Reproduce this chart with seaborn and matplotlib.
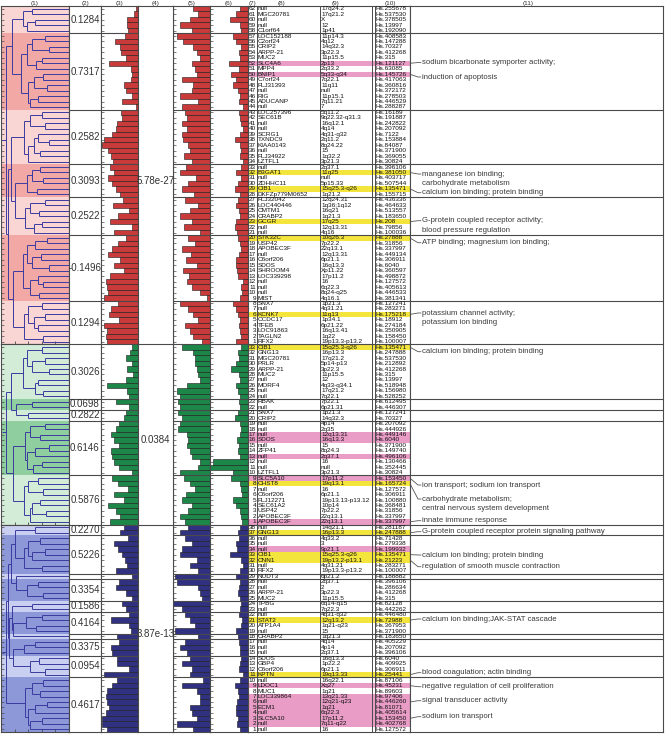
import numpy as np
import pandas as pd
import matplotlib
matplotlib.use("Agg")
import matplotlib.pyplot as plt
from matplotlib.collections import LineCollection
import seaborn as sns

sns.set_theme(style="white")
plt.rcParams['font.family'] = ['Liberation Sans', 'DejaVu Sans']

# ---------------- data ----------------
red_genes = ["null","MGC20781","null","null","C1orf64","LOC152188","C2orf24","CRIP2","ARPP-21","MUC2","SLC4A6","MPP4","BNIP1","C7orf24","FLJ31393","null","RIG","ADUCANP","null","LOC257396","SEC61B","null","null","SCRG1","TXNDC9","KIAA0143","null","FLJ34922","LZTFL1","null","B3GAT1","null","ZDHHC11","CIB1","DKFZp779M0652","FLJ32042","LOC440446","CMTM1","CRABP2","GCGR","null","null","STK32C","USP42","APOBEC3F","null","C6orf206","SDOS","SHROOM4","LOC339298","null","null","null","MIST","SNX7","null","KCNK7","CCDC17","TFEB","LOC91863","TAGLN2","RFX2"]
red_bands = ["17q24.2","17q21.2","X","12","1p41","11p14.3","4q12","14q32.3","3p22.3","11p15.5","2p13","2q33.2","5q33-q34","7q22.1","11q11","null","11p15.1","7q11.21","7","5q11.2","9q22.32-q31.3","16q12.1","4q14","4q31-q32","2q11.2","8q24.22","15","1q32.2","3p21.3","2q37.1","11q25","null","5p15.33","15q25.3-q26","1q21.2","12q24.31","1q36;1q12","16q21","1q21.3","17q25","12q13.31","4q16","10q26.3","7p22.2","22q13.1","12q13.31","6p21.1","16q13.3","Xp11.22","17p11.2","16","6q22.3","8q24-q25","4q16.1","1p21.3","4q31.21","11q13","1p34.1","6p21.22","16q13.41","1q22","19p13.3-p13.2"]
red_hs = ["Hs.255678","Hs.537530","Hs.378505","Hs.13997","Hs.192090","Hs.408583","Hs.147288","Hs.70327","Hs.412268","Hs.315","Hs.121127","Hs.63085","Hs.145726","Hs.417063","Hs.360816","Hs.372172","Hs.278503","Hs.446529","Hs.288287","Hs.16189","Hs.191887","Hs.242822","Hs.207092","Hs.7122","Hs.153884","Hs.84087","Hs.371900","Hs.369055","Hs.30824","Hs.396106","Hs.381050","Hs.403717","Hs.507544","Hs.135471","Hs.155715","Hs.436336","Hs.464633","Hs.513557","Hs.183650","Hs.208","Hs.79856","Hs.100036","Hs.27888","Hs.31856","Hs.337997","Hs.449134","Hs.306911","Hs.6040","Hs.360597","Hs.498872","Hs.127572","Hs.405613","Hs.446533","Hs.381341","Hs.127241","Hs.283271","Hs.175218","Hs.18912","Hs.274184","Hs.350905","Hs.158450","Hs.100007"]

green_genes = ["CIB1","GNG13","MGC20781","PRLR","ARPP-21","MUC2","null","MORF4","null","null","RBAK","null","SNX7","CRIP2","null","null","null","SDOS","null","ZFP41","null","null","null","LZTFL1","SLC5A10","CHST8","null","C6orf206","FLJ12271","SEC61A2","USP42","APOBEC3F","APOBEC3F"]
green_bands = ["15q25.3-q26","16p13.3","17q21.2","5p14-p13","3p22.3","11p15.5","12","4q33-q34.1","17q21.2","7q22.1","7p22.1","6p21.31","1p21.3","14q32.3","4p14","2q35","12q13.31","16q13.3","15","8q24.3","2q37.1","16","null","3p21.3","17p11.2","19q13.1","16","6p21.1","19p13.13-p13.12","10p14","7p22.2","22q13.1","22q13.1"]
green_hs = ["Hs.135471","Hs.247888","Hs.537530","Hs.212892","Hs.412268","Hs.315","Hs.13997","Hs.518948","Hs.156980","Hs.528252","Hs.612495","Hs.446307","Hs.127241","Hs.70327","Hs.207092","Hs.444926","Hs.449146","Hs.6040","Hs.371900","Hs.149740","Hs.496106","Hs.130466","Hs.352445","Hs.30824","Hs.153450","Hs.165724","Hs.127572","Hs.306911","Hs.100880","Hs.368481","Hs.31856","Hs.337997","Hs.337997"]

blue_genes = ["null","GNG13","null","null","null","CIB1","CNN1","null","RFX2","NUDT3","null","null","ARPP-21","MUC2","TPBG","null","null","STAT2","ATP1A4","null","CRABP2","null","null","null","SDOS","GBP4","C6orf206","KPTN","null","LDOC1","MUC1","LOC339864","null","ECM1","null","SLC5A10","null","null"]
blue_bands = ["14q21.1","16p13.3","4q33.2","3","9p21.1","15q25.3-q26","19p13.2-p13.1","4q31.21","19p13.3-p13.2","6p21.2","2q37.1","2","3p22.3","11p15.5","6q14-q15","7q22.3","4q31-q32","12q13.2","1q21-q23","15","1q21.3","4q14","4p14","2q37.1","16q13.3","1p22.2","6p21.1","19q13.33","16q22.1","Xq27","1q21","13q21.33","12q21-q23","1q21","6q22.3","17p11.2","7q11-q22","16"]
blue_hs = ["Hs.281187","Hs.247888","Hs.71428","Hs.279338","Hs.199932","Hs.135471","Hs.21223","Hs.283271","Hs.100007","Hs.188882","Hs.396106","Hs.286634","Hs.412268","Hs.315","Hs.82128","Hs.442262","Hs.446480","Hs.72988","Hs.367953","Hs.371900","Hs.183650","Hs.405229","Hs.207092","Hs.396106","Hs.6040","Hs.409925","Hs.306911","Hs.25441","Hs.87106","Hs.45231","Hs.89603","Hs.97406","Hs.446260","Hs.81071","Hs.405614","Hs.153450","Hs.402768","Hs.127572"]

# bar values, column (3)
red_v3 = [2,4,11,11,10, 13,23,18,17,12,29,7,6,7,14,12,6,16,2, 17,16,21,22,26,34,36,30,27,25,
          28,24,30,26,22,18, 15,25,9,20,28,6,24, 12,20,26,30,18,24,14,28,32,31,30,34, 20,27,29,19,34,31,32,31]
green_v3 = [6,8,12,6,11,5,12,31,11,9, 22,9, 12,14, 19,22,27,24,19,27,26,24,19,6, 26,20,10,24,14,30,22,18,28]
blue_v3 = [14,18,10,24,20, 16,13,11,22,6,19,22,12,6,16,12,9,27,9,7,21,19,27,26,21,21,9,34,21,26,31,32,31,29,32,36,36,31]
# column (5)
red_v5 = [17,12,20,30,18, 33,27,17,13,10,18,15,13,28,17,18,30,12,28, 25,23,28,23,28,27,22,
          20,26,18,24,30,14,22,28,16,25,12,20,30,18,26,10,22,15,28,19,24,13,27,21,
          23,18,10,3,30,22,17,12,25,20,17,8]
green_v5 = [28,17,15,15,13,12,10,23,33,30,32,30,32,28,30,32,23,22,23,20,18,10,12,30, 26,20,15,24,28,18,22,30,25]
blue_v5 = [22,30,25,18,28, 30,13,20,12,35,33,12,10,8,37,28,25,20,15,35,12,25,30,23,20,28,18,20,7,28,13,10,10,20,18,13,33,17]
# column (6)
red_v6 = [8,12,18,8,7, 15,12,7,9,8,19,9,17,12,15,10,8,9,5, 9,8,7,5,8,13,8,
          7,8,5,7,12,7,10,13,8,10,12,9,8,12,13,11,10,8,7,9,12,12,11,10,
          5,7,6,8,15,12,10,8,9,8,7,12]
green_v6 = [7,10,9,12,17,9,8,12,10,8,9,8,10,13,8,7,8,11,9,10,8,35,38,15,17,8,7,6,15,12,8,7,6]
blue_v6 = [8,10,9,12,11, 18,7,5,8,12,8,9,10,8,7,8,9,6,7,12,10,9,8,8,7,8,9,5,8,13,10,9,11,12,12,10,11,8]

# sub-cluster sizes and correlation labels (column 2)
red_sub = [5,14,10,6,7,12,8]
red_sub_lab = ["0.1284","0.7317","0.2582","0.3093","0.2522","-0.1496","0.1294"]
green_sub = [10,2,2,10,9]
green_sub_lab = ["0.3026","0.0698","0.2822","0.6146","0.5876"]
blue_sub = [2,7,1,4,2,4,1,3,4,10]
blue_sub_lab = ["0.2270","0.5226","","0.3354","0.1586","0.4164","","0.3375","0.0954","0.4617"]
cluster_p = ["5.78e-27","0.0384","3.87e-13"]

# dendrogram: adjacent-leaf merge heights inside each sub-cluster, and between sub-clusters
red_gap_in = [[0.55,0.68,0.50,0.62],
              [0.35,0.55,0.30,0.62,0.40,0.48,0.70,0.38,0.52,0.33,0.60,0.45,0.57],
              [0.40,0.58,0.35,0.66,0.45,0.30,0.52,0.42,0.60],
              [0.42,0.55,0.38,0.62,0.47],
              [0.36,0.58,0.44,0.64,0.40,0.52],
              [0.33,0.50,0.62,0.41,0.55,0.30,0.68,0.46,0.38,0.57,0.44],
              [0.40,0.60,0.35,0.52,0.45,0.66,0.38]]
red_gap_between = [0.84,0.93,0.86,0.80,0.89,0.82]
green_gap_in = [[0.40,0.62,0.35,0.55,0.30,0.68,0.45,0.50,0.38],[0.55],[0.60],
                [0.35,0.58,0.42,0.65,0.30,0.50,0.62,0.40,0.53],
                [0.45,0.60,0.38,0.66,0.42,0.55,0.34,0.58]]
green_gap_between = [0.86,0.78,0.92,0.83]
blue_gap_in = [[0.50],[0.42,0.60,0.35,0.55,0.66,0.40],[],[0.45,0.62,0.38],[0.55],[0.40,0.63,0.48],[],
               [0.50,0.66],[0.44,0.58,0.36],[0.38,0.55,0.42,0.65,0.33,0.50,0.60,0.40,0.57]]
blue_gap_between = [0.80,0.86,0.78,0.90,0.84,0.82,0.88,0.83,0.92]

# highlighted rows (gene number within cluster)
yellow_rows = {"red":[32,29,23,20,6], "green":[33,8], "blue":[37,33,32,21,11]}
pink_rows = {"red":[52,50], "green":[17,16,13,9,1], "blue":[34,9,7,6,5,4,3,2]}

# GO annotations (column 11)
annotations = [
    ("red",52,["sodium bicarbonate symporter activity;"]),
    ("red",50,["induction of apoptosis"]),
    ("red",32,["manganese ion binding;","carbohydrate metabolism"]),
    ("red",29,["calcium ion binding; protein binding"]),
    ("red",23,["G-protein coupled receptor activity;","blood pressure regulation"]),
    ("red",20,["ATP binding; magnesium ion binding;"]),
    ("red",6,["potassium channel activity;","potassium ion binding"]),
    ("green",33,["calcium ion binding; protein binding"]),
    ("green",9,["ion transport; sodium ion transport"]),
    ("green",8,["carbohydrate metabolism;","central nervous system development"]),
    ("green",1,["innate immune response"]),
    ("blue",37,["G-protein coupled receptor protein signaling pathway"]),
    ("blue",33,["calcium ion binding; protein binding"]),
    ("blue",32,["regulation of smooth muscle contraction"]),
    ("blue",21,["calcium ion binding;JAK-STAT cascade"]),
    ("blue",11,["blood coagulation; actin binding"]),
    ("blue",9,["negative regulation of cell proliferation"]),
    ("blue",6,["signal transducer activity"]),
    ("blue",3,["sodium ion transport"]),
]
# text top-line y (pixels) for each annotation (layout)
ann_text_y = [62.5,77,174,192.7,220.7,242.7,313,351.7,485,499,520.7,531.7,555,566.7,619,672.7,686.7,700.7,716.7]

# ---------------- assemble ----------------
clusters = ["red","green","blue"]
G = {"red":(red_genes,red_bands,red_hs,red_v3,red_v5,red_v6,red_sub,red_sub_lab,red_gap_in,red_gap_between),
     "green":(green_genes,green_bands,green_hs,green_v3,green_v5,green_v6,green_sub,green_sub_lab,green_gap_in,green_gap_between),
     "blue":(blue_genes,blue_bands,blue_hs,blue_v3,blue_v5,blue_v6,blue_sub,blue_sub_lab,blue_gap_in,blue_gap_between)}
recs = []
start = {}
pos = 0
for c in clusters:
    g = G[c]
    start[c] = pos
    n = len(g[0])
    for k in range(n):
        recs.append(dict(pos=pos, cluster=c, num=n-k, gene=g[0][k], band=g[1][k], hs=g[2][k],
                         v3=g[3][k], v5=g[4][k], v6=g[5][k]))
        pos += 1
df = pd.DataFrame(recs)
N = len(df)

bar_pal = {"red":"#e02424","green":"#0c9846","blue":"#24248e"}
bg_pal = {"red":("#f9d5d3","#f2a9a5"),"green":("#d3ecd8","#8fce9e"),"blue":("#c9cff1","#8d98d8")}
line_c = "#4a4a4a"

W, H = 665, 735
TOP, BOT = 6, 732
RH = (BOT-TOP)/N
fig = plt.figure(figsize=(6.65,7.35), dpi=100)
fig.patch.set_facecolor("white")

def add_ax(x0, x1, y0=TOP, y1=BOT):
    a = fig.add_axes([x0/W, 1-y1/H, (x1-x0)/W, (y1-y0)/H])
    a.set_facecolor("white")
    for s in a.spines.values():
        s.set_color(line_c); s.set_linewidth(0.8)
    return a

def px2row(y):
    return (y-TOP)/RH - 0.5

def row_of(c, num):
    return start[c] + len(G[c][0]) - num

# sub-cluster boundaries (global)
sub_bounds = []
cl_bounds = []
for c in clusters:
    p = start[c]
    for s in G[c][6]:
        p += s
        sub_bounds.append(p-0.5)
    cl_bounds.append(p-0.5)
sub_bounds = sub_bounds[:-1]
cl_bounds = cl_bounds[:-1]

# ---- column 1: dendrograms ----
for c in clusters:
    n = len(G[c][0])
    y0 = start[c]
    ax = add_ax(1, 69, TOP+y0*RH, TOP+(y0+n)*RH)
    ax.set_xlim(1.0, 0.0)
    ax.set_ylim(y0+n-0.5, y0-0.5)
    p = y0
    light, dark = bg_pal[c]
    for i, s in enumerate(G[c][6]):
        ax.axhspan(p-0.5, p+s-0.5, color=light if i % 2 == 0 else dark, lw=0, zorder=0)
        p += s
    gaps = []
    for i, gi in enumerate(G[c][8]):
        gaps += gi
        if i < len(G[c][9]):
            gaps.append(G[c][9][i])
    segs = []
    def rec(lo, hi):
        if lo == hi:
            return 0.0, y0+lo
        k = lo + int(np.argmax(gaps[lo:hi]))
        h = gaps[k]
        hl, yl = rec(lo, k)
        hr, yr = rec(k+1, hi)
        segs.append([(hl, yl), (h, yl)])
        segs.append([(hr, yr), (h, yr)])
        segs.append([(h, yl), (h, yr)])
        return h, (yl+yr)/2
    hroot, yroot = rec(0, n-1)
    segs.append([(hroot, yroot), (0.985, yroot)])
    ax.add_collection(LineCollection(segs, colors="#3b3ba0", linewidths=0.7, zorder=2))
    ax.set_yticks(range(y0, y0+n))
    ax.set_xticks([0.8,0.6,0.4,0.2])
    ax.tick_params(axis="y", left=True, direction="in", length=2.5, width=0.5, colors=line_c, labelleft=False)
    ax.tick_params(axis="x", bottom=True, direction="in", length=2.5, width=0.6, colors=line_c, labelbottom=False)

# ---- column 2: sub-cluster correlations ----
ax2 = add_ax(69, 101)
ax2.set_xlim(0, 1); ax2.set_ylim(N-0.5, -0.5)
ax2.set_xticks([]); ax2.set_yticks([])
for b in sub_bounds:
    ax2.axhline(b, color=line_c, lw=0.8)
for c in clusters:
    p = start[c]
    for s, lab in zip(G[c][6], G[c][7]):
        if lab:
            ax2.text(0.5, p+(s-1)/2, lab, ha="center", va="center", fontsize=7, color="#333333")
        p += s

# ---- bar columns ----
def bar_col(x0, x1, key):
    ax = add_ax(x0, x1)
    sns.barplot(data=df, x=key, y="pos", hue="cluster", palette=bar_pal, orient="h",
                native_scale=True, width=1.0, dodge=False, edgecolor="#1a1a1a", linewidth=0.4,
                legend=False, errorbar=None, ax=ax)
    ax.set_xlim(x1-x0, 0)
    ax.set_ylim(N-0.5, -0.5)
    ax.set_xlabel(""); ax.set_ylabel("")
    ax.set_xticks([])
    ax.set_yticks(range(N))
    ax.tick_params(axis="y", left=True, direction="in", length=2.5, width=0.5, colors=line_c, labelleft=False)
    for b in sub_bounds:
        ax.axhline(b, color=line_c, lw=0.8, zorder=5)
    return ax

bar_col(101, 138, "v3")
bar_col(173, 210, "v5")
bar_col(210, 248, "v6")

# ---- column 4: cluster p-values ----
ax4 = add_ax(138, 173)
ax4.set_xlim(0, 1); ax4.set_ylim(N-0.5, -0.5)
ax4.set_xticks([]); ax4.set_yticks([])
for b in cl_bounds:
    ax4.axhline(b, color=line_c, lw=0.8)
for c, pv in zip(clusters, cluster_p):
    n = len(G[c][0])
    ax4.text(0.5, start[c]+n/2+0.5, pv, ha="center", va="center", fontsize=7, color="#333333", clip_on=False)

# ---- columns 7-10: gene table ----
axt = add_ax(248, 410)
axt.set_xlim(248, 410); axt.set_ylim(N-0.5, -0.5)
axt.set_xticks([]); axt.set_yticks([])
for c in clusters:
    for num in yellow_rows[c]:
        r = row_of(c, num)
        axt.axhspan(r-0.5, r+0.5, color="#f4e53c", lw=0, zorder=0)
    for num in pink_rows[c]:
        r = row_of(c, num)
        axt.axhspan(r-0.5, r+0.5, color="#e89cc6", lw=0, zorder=0)
for xv in [257, 320, 372, 374.5]:
    axt.axvline(xv, color=line_c, lw=0.7)
for b in sub_bounds:
    axt.axhline(b, color=line_c, lw=0.8)
fs = 4.6
for rr in df.itertuples():
    axt.text(256, rr.pos, str(rr.num), ha="right", va="center", fontsize=fs, color="#111111")
    axt.text(258, rr.pos, rr.gene, ha="left", va="center", fontsize=fs, color="#111111")
    axt.text(321, rr.pos, rr.band, ha="left", va="center", fontsize=fs, color="#111111")
    axt.text(375.5, rr.pos, rr.hs, ha="left", va="center", fontsize=fs, color="#111111")

# ---- column 11: GO annotations ----
ax11 = add_ax(410, 663)
ax11.set_xlim(410, 663); ax11.set_ylim(N-0.5, -0.5)
ax11.set_xticks([]); ax11.set_yticks([])
for b in sub_bounds:
    ax11.axhline(b, color=line_c, lw=0.8)
for (c, num, lines), ty in zip(annotations, ann_text_y):
    r = row_of(c, num)
    tr = px2row(ty)
    ax11.plot([410, 418, 421], [r, tr, tr], color="#555555", lw=0.6)
    for j, t in enumerate(lines):
        ax11.text(422, px2row(ty + j*9.6), t, ha="left", va="center", fontsize=5.6, color="#3a3a3a")

# ---- header labels ----
heads = [("(1)",35),("(2)",85),("(3)",119.5),("(4)",155.5),("(5)",191.5),("(6)",229),
         ("(7)",252.5),("(8)",282),("(9)",335),("(10)",390),("(11)",528)]
for t, x in heads:
    fig.text(x/W, 1-3/H, t, ha="center", va="center", fontsize=4.6, color="#333333")

fig.savefig("out.png", dpi=100, facecolor="white")
